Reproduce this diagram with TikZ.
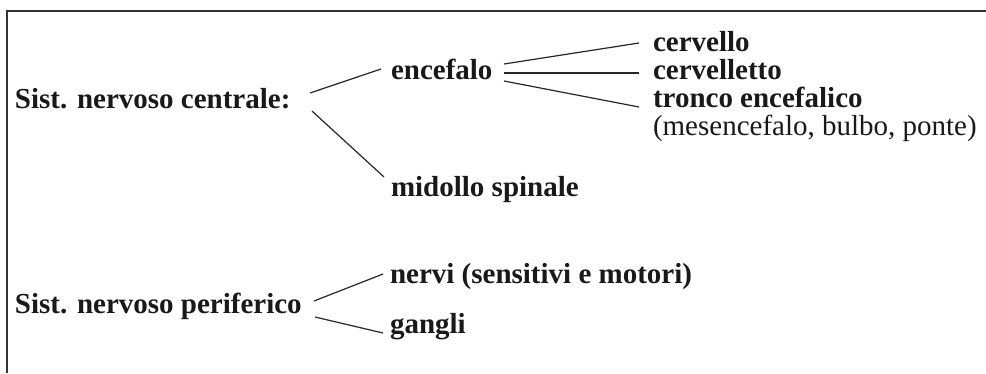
\documentclass[tikz,border=0pt]{standalone}
\usepackage{fontspec}
\setmainfont{Liberation Serif}
\begin{document}
\begin{tikzpicture}[x=1pt,y=-1pt,
  lbl/.style={anchor=base west,inner sep=0pt,outer sep=0pt,font=\fontsize{29}{34}\selectfont\bfseries,text=black!90},
  lblr/.style={lbl,font=\fontsize{29}{34}\selectfont},
  conn/.style={line width=1.2pt,draw=black!85},
  frame/.style={line width=2pt,draw=black!80}]
\useasboundingbox (0,0) rectangle (986,373);
\draw[frame] (6.5,373) -- (6.5,10.5) -- (986,10.5);
\node[lbl] (snc) at (15,108) {Sist. nervoso centrale:};
\node[lbl] (enc) at (391,79) {encefalo};
\node[lbl] (mid) at (391,196) {midollo spinale};
\node[lbl] (cer) at (653,51) {cervello};
\node[lbl] (cet) at (653,79) {cervelletto};
\node[lbl] (tro) at (653,107) {tronco encefalico};
\node[lblr] (mes) at (653,135) {(mesencefalo, bulbo, ponte)};
\node[lbl] (psp) at (15,313) {Sist. nervoso periferico};
\node[lbl] (ner) at (390,283) {nervi (sensitivi e motori)};
\node[lbl] (gan) at (390,333) {gangli};
\draw[conn] ([shift={(295,-15)}]snc.base west) -- ([shift={(-10,-10)}]enc.base west);
\draw[conn] ([shift={(297,3)}]snc.base west) -- ([shift={(-7,-19)}]mid.base west);
\draw[conn] ([shift={(113,-15)}]enc.base west) -- ([shift={(-14,-8)}]cer.base west);
\draw[conn] ([shift={(113,-6)}]enc.base west) -- ([shift={(-14,-6)}]cet.base west);
\draw[conn] ([shift={(113,2)}]enc.base west) -- ([shift={(-14,0)}]tro.base west);
\draw[conn] ([shift={(299,-12)}]psp.base west) -- ([shift={(-7,-9)}]ner.base west);
\draw[conn] ([shift={(300,4)}]psp.base west) -- ([shift={(-7,0)}]gan.base west);
\end{tikzpicture}
\end{document}
